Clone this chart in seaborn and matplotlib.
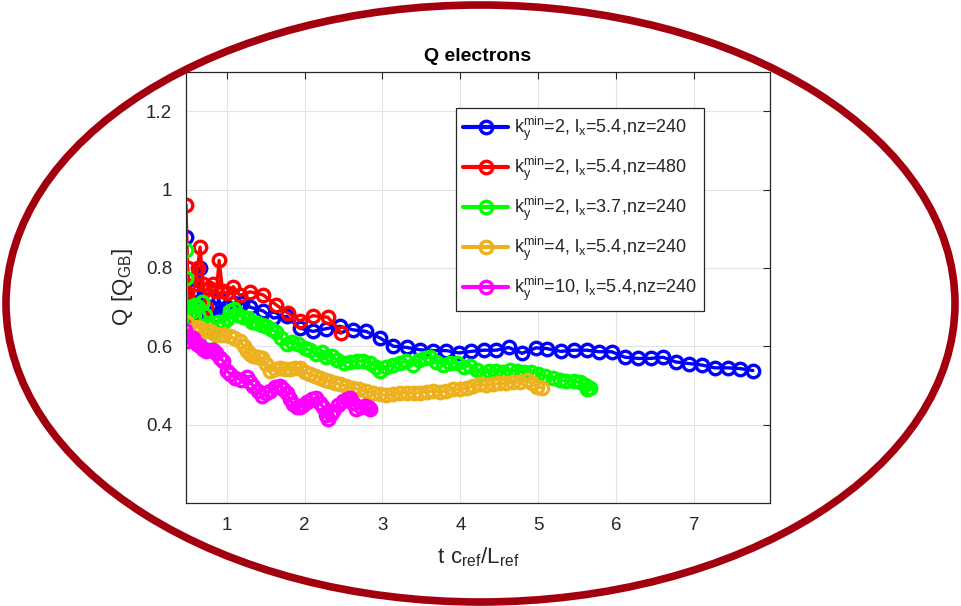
import matplotlib
matplotlib.use("Agg")
import matplotlib.pyplot as plt
import seaborn as sns
import pandas as pd
from matplotlib.patches import Ellipse

# ---------------- data ----------------
blue_x = [0.48, 0.52, 0.57, 0.62, 0.66, 0.70, 0.75, 0.80, 0.85, 0.90, 0.95, 1.00, 1.10, 1.20,
          1.30, 1.47, 1.60, 1.77, 1.94, 2.11, 2.28, 2.45, 2.62, 2.79, 2.97, 3.14, 3.31, 3.48,
          3.65, 3.82, 3.98, 4.14, 4.30, 4.46, 4.62, 4.79, 4.97, 5.11, 5.29, 5.45, 5.62, 5.78,
          5.94, 6.11, 6.28, 6.44, 6.60, 6.76, 6.93, 7.10, 7.26, 7.43, 7.59, 7.75]
blue_y = [0.88, 0.70, 0.74, 0.68, 0.80, 0.68, 0.66, 0.70, 0.68, 0.72, 0.69, 0.70, 0.71, 0.71,
          0.70, 0.69, 0.672, 0.676, 0.646, 0.638, 0.645, 0.651, 0.642, 0.638, 0.621, 0.600, 0.597, 0.591,
          0.589, 0.589, 0.583, 0.587, 0.590, 0.590, 0.597, 0.582, 0.596, 0.594, 0.587, 0.590, 0.590, 0.586,
          0.586, 0.572, 0.569, 0.569, 0.572, 0.560, 0.556, 0.552, 0.545, 0.545, 0.543, 0.538]

red_x = [0.48, 0.50, 0.55, 0.59, 0.63, 0.66, 0.70, 0.74, 0.78, 0.83, 0.87, 0.905, 0.95, 1.00,
         1.085, 1.17, 1.30, 1.47, 1.64, 1.79, 1.94, 2.11, 2.30, 2.47]
red_y = [0.96, 0.80, 0.68, 0.76, 0.80, 0.853, 0.76, 0.70, 0.748, 0.760, 0.74, 0.819, 0.74, 0.735,
         0.752, 0.73, 0.739, 0.731, 0.705, 0.684, 0.665, 0.678, 0.674, 0.634]

green_x = [0.48, 0.48, 0.49, 0.50, 0.53, 0.57, 0.60, 0.64, 0.68, 0.72, 0.76, 0.79, 0.84, 0.89,
           0.95, 1.00, 1.05, 1.10, 1.15, 1.21, 1.27, 1.33, 1.39, 1.45, 1.51, 1.57, 1.64, 1.70,
           1.77, 1.84, 1.92, 2.00, 2.07, 2.15, 2.22, 2.28, 2.35, 2.42, 2.50, 2.58, 2.67, 2.75,
           2.84, 2.92, 2.97, 3.05, 3.14, 3.22, 3.30, 3.39, 3.47, 3.55, 3.61, 3.68, 3.78, 3.86,
           3.95, 4.04, 4.12, 4.21, 4.29, 4.37, 4.46, 4.55, 4.63, 4.72, 4.81, 4.90, 5.00, 5.09,
           5.19, 5.28, 5.36, 5.45, 5.53, 5.60, 5.66, 5.62]
green_y = [0.845, 0.773, 0.70, 0.66, 0.70, 0.69, 0.705, 0.70, 0.714, 0.68, 0.66, 0.62, 0.64, 0.663,
           0.66, 0.67, 0.69, 0.695, 0.68, 0.675, 0.672, 0.663, 0.660, 0.655, 0.651, 0.645, 0.636, 0.62,
           0.605, 0.612, 0.606, 0.595, 0.590, 0.580, 0.585, 0.572, 0.575, 0.565, 0.558, 0.560, 0.563, 0.562,
           0.558, 0.548, 0.537, 0.548, 0.553, 0.558, 0.562, 0.553, 0.566, 0.570, 0.572, 0.560, 0.553, 0.558,
           0.558, 0.548, 0.550, 0.540, 0.530, 0.536, 0.537, 0.535, 0.540, 0.537, 0.534, 0.535, 0.530, 0.524,
           0.520, 0.514, 0.511, 0.512, 0.508, 0.500, 0.494, 0.490]

orange_x = [0.48, 0.50, 0.53, 0.58, 0.62, 0.66, 0.72, 0.79, 0.85, 0.91, 0.97, 1.04, 1.10, 1.17,
            1.22, 1.26, 1.30, 1.34, 1.40, 1.45, 1.50, 1.56, 1.62, 1.68, 1.75, 1.81, 1.88, 1.94,
            2.00, 2.07, 2.13, 2.20, 2.26, 2.32, 2.39, 2.45, 2.53, 2.62, 2.70, 2.79, 2.88, 2.97,
            3.05, 3.14, 3.22, 3.31, 3.40, 3.48, 3.57, 3.65, 3.74, 3.82, 3.91, 3.99, 4.08, 4.16,
            4.25, 4.33, 4.42, 4.50, 4.59, 4.67, 4.76, 4.85, 4.92, 4.98, 5.04]
orange_y = [0.663, 0.64, 0.63, 0.645, 0.65, 0.646, 0.64, 0.638, 0.632, 0.63, 0.628, 0.625, 0.62, 0.613,
            0.60, 0.587, 0.58, 0.575, 0.572, 0.570, 0.555, 0.537, 0.542, 0.545, 0.543, 0.541, 0.545, 0.545,
            0.535, 0.528, 0.525, 0.52, 0.515, 0.511, 0.507, 0.503, 0.498, 0.494, 0.49, 0.486, 0.480, 0.477,
            0.475, 0.477, 0.480, 0.482, 0.480, 0.482, 0.484, 0.486, 0.483, 0.487, 0.490, 0.490, 0.494, 0.498,
            0.503, 0.500, 0.503, 0.505, 0.506, 0.508, 0.509, 0.513, 0.505, 0.497, 0.494]

magenta_x = [0.47, 0.49, 0.51, 0.55, 0.57, 0.62, 0.66, 0.70, 0.74, 0.79, 0.83, 0.87, 0.91, 0.96,
             1.00, 1.05, 1.11, 1.18, 1.26, 1.30, 1.34, 1.40, 1.45, 1.50, 1.56, 1.62, 1.68, 1.73,
             1.77, 1.81, 1.85, 1.90, 1.94, 1.98, 2.03, 2.09, 2.15, 2.20, 2.24, 2.27, 2.30, 2.34,
             2.37, 2.43, 2.49, 2.54, 2.58, 2.62, 2.66, 2.72, 2.77, 2.81, 2.84]
magenta_y = [0.642, 0.625, 0.613, 0.62, 0.621, 0.605, 0.60, 0.592, 0.587, 0.59, 0.591, 0.583, 0.570, 0.562,
             0.537, 0.53, 0.520, 0.515, 0.522, 0.51, 0.499, 0.485, 0.473, 0.48, 0.486, 0.497, 0.499, 0.49,
             0.482, 0.465, 0.452, 0.446, 0.444, 0.45, 0.457, 0.465, 0.469, 0.455, 0.444, 0.425, 0.414, 0.428,
             0.435, 0.45, 0.461, 0.466, 0.469, 0.455, 0.440, 0.445, 0.448, 0.444, 0.440]

labels = [
    r"$\mathregular{k_y^{min}}$=2, $\mathregular{l_x}$=5.4,nz=240",
    r"$\mathregular{k_y^{min}}$=2, $\mathregular{l_x}$=5.4,nz=480",
    r"$\mathregular{k_y^{min}}$=2, $\mathregular{l_x}$=3.7,nz=240",
    r"$\mathregular{k_y^{min}}$=4, $\mathregular{l_x}$=5.4,nz=240",
    r"$\mathregular{k_y^{min}}$=10, $\mathregular{l_x}$=5.4,nz=240",
]
colors = ["#0000FF", "#FF0000", "#00FF00", "#EDB120", "#FF00FF"]
series = [(blue_x, blue_y), (red_x, red_y), (green_x, green_y),
          (orange_x, orange_y), (magenta_x, magenta_y)]

x_ticks = [1, 2, 3, 4, 5, 6, 7]
y_ticks = [0.4, 0.6, 0.8, 1.0, 1.2]
y_tick_labels = ["0.4", "0.6", "0.8", "1", "1.2"]

# ---------------- plot ----------------
sns.set_style("white")
plt.rcParams["font.family"] = ["Liberation Sans", "DejaVu Sans"]
plt.rcParams["mathtext.fontset"] = "custom"
plt.rcParams["mathtext.rm"] = "Liberation Sans"

fig = plt.figure(figsize=(9.61, 6.06), dpi=100)
ax = fig.add_axes([186 / 961, 1 - 503 / 606, (770 - 186) / 961, (503 - 72) / 606])

for (xs, ys), c, lab in zip(series, colors, labels):
    df = pd.DataFrame({"x": xs, "y": ys})
    sns.lineplot(data=df, x="x", y="y", ax=ax, sort=False, estimator=None,
                 color=c, linewidth=2.4, marker="o", markersize=9,
                 markerfacecolor="none", markeredgecolor=c, markeredgewidth=2.4,
                 label=lab)

ax.set_xlim(0.48, 7.97)
ax.set_ylim(0.2, 1.3)
ax.set_xticks(x_ticks)
ax.set_xticklabels([str(t) for t in x_ticks])
ax.set_yticks(y_ticks)
ax.set_yticklabels(y_tick_labels)
ax.grid(True, color="#E3E3E3", linewidth=0.8)
ax.set_axisbelow(True)
ax.tick_params(axis="both", direction="in", length=5, width=0.8, colors="#262626",
               labelsize=13.5, top=True, right=True, pad=10)
for s in ax.spines.values():
    s.set_color("#262626")
    s.set_linewidth(0.9)

ax.set_xlabel(r"$\mathregular{t\ c_{ref}/L_{ref}}$", fontsize=16, color="#262626", labelpad=8)
ax.set_ylabel(r"$\mathregular{Q\ [Q_{GB}]}$", fontsize=16, color="#262626", labelpad=8)
ax.set_title("Q electrons", fontsize=14, fontweight="bold", color="#000000", pad=8)

leg = ax.legend(loc="upper right", bbox_to_anchor=(0.887, 0.917), fontsize=13,
                frameon=True, fancybox=False, edgecolor="#262626", framealpha=1,
                handlelength=2.5, borderpad=0.4, labelspacing=0.65, handletextpad=0.3,
                borderaxespad=0)
leg.get_frame().set_linewidth(0.9)
for h in leg.get_lines():
    h.set_linewidth(3.0)

# decorative ellipse around the chart
ell = Ellipse((480.5 / 961, 1 - 303.5 / 606), 949 / 961, 597 / 606,
              transform=fig.transFigure, fill=False, edgecolor="#A3000F",
              linewidth=5.5, zorder=10)
fig.add_artist(ell)

fig.savefig("out.png", dpi=100)
